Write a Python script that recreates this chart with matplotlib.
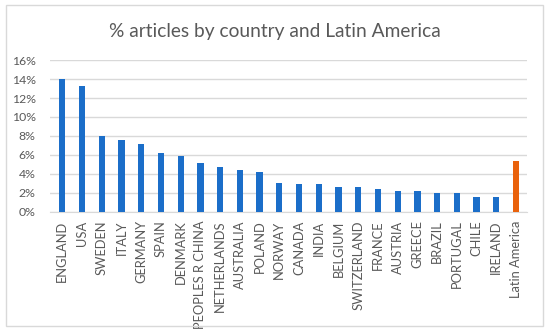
import matplotlib.pyplot as plt
from matplotlib.patches import Rectangle
from matplotlib.ticker import FuncFormatter

# data (percent of articles)
countries = ["ENGLAND", "USA", "SWEDEN", "ITALY", "GERMANY", "SPAIN", "DENMARK",
             "PEOPLES R CHINA", "NETHERLANDS", "AUSTRALIA", "POLAND", "NORWAY",
             "CANADA", "INDIA", "BELGIUM", "SWITZERLAND", "FRANCE", "AUSTRIA",
             "GREECE", "BRAZIL", "PORTUGAL", "CHILE", "IRELAND", "Latin America"]
values = [13.95, 13.25, 8.05, 7.6, 7.15, 6.25, 5.85, 5.15, 4.7, 4.45, 4.25, 3.1,
          2.9, 2.9, 2.65, 2.65, 2.4, 2.2, 2.2, 1.95, 1.95, 1.55, 1.55, 5.35]

blue = "#1b6ec9"
orange = "#e9620c"
colors = [blue] * (len(countries) - 1) + [orange]

plt.rcParams['font.family'] = ['Lato', 'DejaVu Sans']

fig = plt.figure(figsize=(5.5, 3.33), dpi=100)
fig.patches.append(Rectangle((0.011, 0.02), 0.976, 0.965, transform=fig.transFigure,
                             fill=False, edgecolor="#d9d9d9", linewidth=1))
ax = fig.add_axes([0.09, 0.3634, 0.868, 0.4564])

x = range(len(countries))
ax.bar(x, values, width=0.32, color=colors, zorder=3)

ax.set_ylim(0, 16)
ax.set_yticks(range(0, 17, 2))
ax.yaxis.set_major_formatter(FuncFormatter(lambda v, p: f"{int(v)}%"))
ax.set_xlim(-0.65, len(countries) - 0.45)
ax.set_xticks(list(x))
ax.set_xticklabels(countries, rotation=90, fontsize=9.3, color="#595959")
ax.tick_params(axis='y', labelsize=8.8, labelcolor="#595959", length=0, pad=10)
ax.tick_params(axis='x', length=0, pad=6)
ax.grid(axis='y', color="#d9d9d9", linewidth=1, zorder=0)
for s in ["top", "right", "left"]:
    ax.spines[s].set_visible(False)
ax.spines["bottom"].set_color("#d9d9d9")

fig.text(0.5, 0.905, "% articles by country and Latin America", ha="center",
         va="center", fontsize=13.8, color="#595959")

fig.savefig("out.png", dpi=100)
